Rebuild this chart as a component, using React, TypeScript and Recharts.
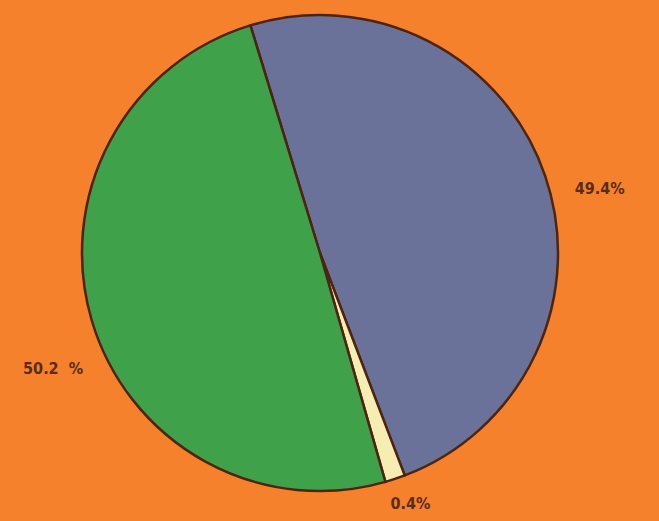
import React from "react";
import { PieChart, Pie, Cell } from "recharts";

const categories = ["Blue", "Cream", "Green"];
const values = [49.4, 0.4, 50.2];
const labels = ["49.4%", "0.4%", "50.2  %"];
const colors = ["#6B7299", "#F5EDB2", "#3FA24B"];

const data = categories.map((name, i) => ({ name, value: values[i] }));

const RAD = Math.PI / 180;
const dAngle = [-6, 1.5, 7];
const dRadius = [49, 28, 53];

const renderLabel = (props: any) => {
  const { cx, cy, midAngle, outerRadius, index } = props;
  const a = (midAngle + dAngle[index]) * RAD;
  const r = outerRadius + dRadius[index];
  const x = cx + r * Math.cos(a);
  const y = cy - r * Math.sin(a);
  return (
    <text
      x={x}
      y={y}
      textAnchor="middle"
      dominantBaseline="central"
      fill="#5A2C14"
      fontFamily="'DejaVu Sans Condensed', 'DejaVu Sans', sans-serif"
      fontWeight="bold"
      fontSize={16}
      style={{ whiteSpace: "pre" }}
    >
      {labels[index]}
    </text>
  );
};

export default function App() {
  return (
    <div
      style={{
        position: "absolute",
        left: 0,
        top: 0,
        width: 659,
        height: 521,
        background: "#F6812C",
      }}
    >
      <PieChart width={659} height={521}>
        <Pie
          data={data}
          dataKey="value"
          nameKey="name"
          cx={315}
          cy={248}
          outerRadius={238}
          startAngle={107}
          endAngle={-253}
          minAngle={3.5}
          stroke="#4E2410"
          strokeWidth={2.5}
          label={renderLabel}
          labelLine={false}
          isAnimationActive={false}
        >
          {data.map((d, i) => (
            <Cell key={d.name} fill={colors[i]} />
          ))}
        </Pie>
      </PieChart>
    </div>
  );
}
